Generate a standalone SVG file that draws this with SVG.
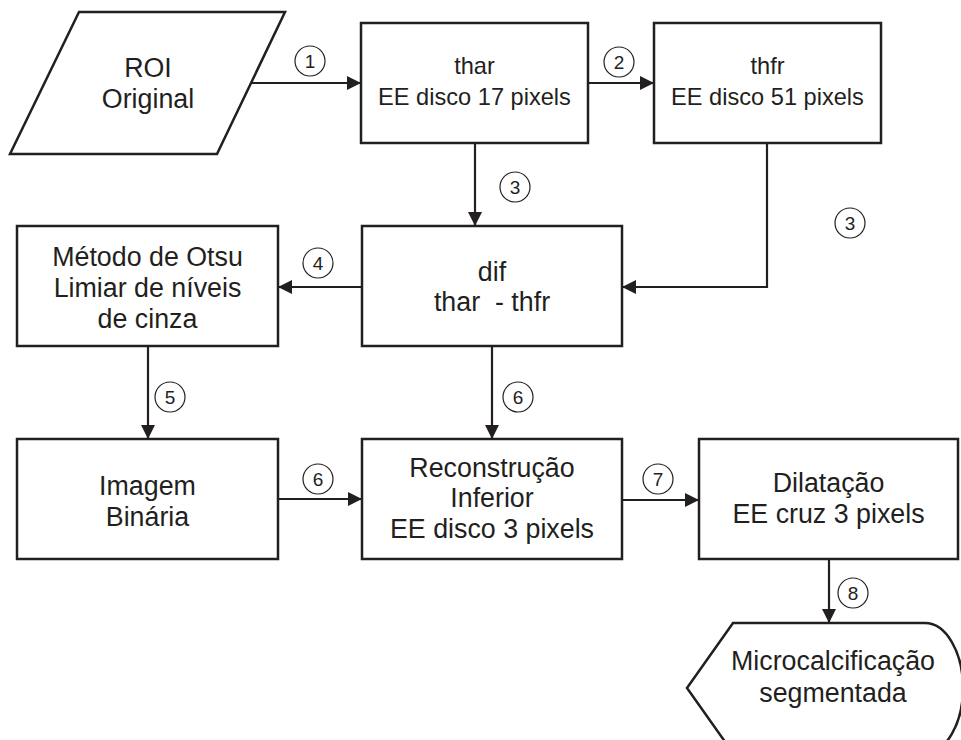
<svg xmlns="http://www.w3.org/2000/svg" width="961" height="740" viewBox="0 0 961 740">
  <style>
    .box { fill: #ffffff; stroke: #231f20; stroke-width: 2.5; }
    .lbl { font-family: "Liberation Sans", Arial, sans-serif; font-size: 26.8px; fill: #231f20; text-anchor: middle; }
    .sm { font-size: 23.6px; }
    .wire { fill: none; stroke: #231f20; stroke-width: 2.2; }
    .num circle { fill: #ffffff; stroke: #231f20; stroke-width: 1.2; }
    .num text { font-family: "Liberation Sans", Arial, sans-serif; font-size: 19px; fill: #231f20; text-anchor: middle; }
  </style>
  <defs>
    <marker id="arrow" markerUnits="userSpaceOnUse" markerWidth="14" markerHeight="14" refX="14" refY="7" orient="auto">
      <path d="M0,0 L14,7 L0,14 z" fill="#231f20"/>
    </marker>
  </defs>
  <rect width="961" height="740" fill="#ffffff"/>

  <!-- connectors -->
  <g id="connectors">
    <line class="wire" x1="252" y1="83" x2="361" y2="83" marker-end="url(#arrow)"/>
    <line class="wire" x1="588" y1="83" x2="654" y2="83" marker-end="url(#arrow)"/>
    <line class="wire" x1="475" y1="143" x2="475" y2="226" marker-end="url(#arrow)"/>
    <polyline class="wire" points="767,143 767,287 622,287" marker-end="url(#arrow)"/>
    <line class="wire" x1="362" y1="287" x2="278" y2="287" marker-end="url(#arrow)"/>
    <line class="wire" x1="148" y1="346" x2="148" y2="439" marker-end="url(#arrow)"/>
    <line class="wire" x1="278" y1="499" x2="362" y2="499" marker-end="url(#arrow)"/>
    <line class="wire" x1="492" y1="346" x2="492" y2="439" marker-end="url(#arrow)"/>
    <line class="wire" x1="622" y1="500" x2="699" y2="500" marker-end="url(#arrow)"/>
    <line class="wire" x1="829" y1="559" x2="829" y2="623" marker-end="url(#arrow)"/>

    <!-- step numbers -->
    <g class="num">
      <circle cx="310" cy="61" r="15"/><text x="310" y="68">1</text>
      <circle cx="619" cy="62" r="15"/><text x="619" y="69">2</text>
      <circle cx="515" cy="187" r="15"/><text x="515" y="194">3</text>
      <circle cx="850" cy="223" r="15"/><text x="850" y="230">3</text>
      <circle cx="318" cy="263" r="15"/><text x="318" y="270">4</text>
      <circle cx="170" cy="397" r="15"/><text x="170" y="404">5</text>
      <circle cx="518" cy="397" r="15"/><text x="518" y="404">6</text>
      <circle cx="318" cy="479" r="15"/><text x="318" y="486">6</text>
      <circle cx="658" cy="479" r="15"/><text x="658" y="486">7</text>
      <circle cx="853" cy="593" r="15"/><text x="853" y="600">8</text>
    </g>
  </g>

  <!-- input data -->
  <g id="roi">
    <polygon class="box" points="79,12 285,12 217,154 10,154"/>
    <text class="lbl" x="148" y="77">ROI</text>
    <text class="lbl" x="148" y="108">Original</text>
  </g>

  <g id="thar">
    <rect class="box" x="361" y="23" width="227" height="120"/>
    <text class="lbl sm" x="474.5" y="74">thar</text>
    <text class="lbl sm" x="474.5" y="105">EE disco 17 pixels</text>
  </g>

  <g id="thfr">
    <rect class="box" x="654" y="23" width="227" height="120"/>
    <text class="lbl sm" x="767.5" y="74">thfr</text>
    <text class="lbl sm" x="767.5" y="105">EE disco 51 pixels</text>
  </g>

  <g id="dif">
    <rect class="box" x="362" y="226" width="260" height="120"/>
    <text class="lbl" x="492" y="281">dif</text>
    <text class="lbl" x="492" y="311" style="white-space:pre">thar  - thfr</text>
  </g>

  <g id="otsu">
    <rect class="box" x="17" y="226" width="261" height="120"/>
    <text class="lbl" x="147.5" y="266">Método de Otsu</text>
    <text class="lbl" x="147.5" y="297">Limiar de níveis</text>
    <text class="lbl" x="147.5" y="328">de cinza</text>
  </g>

  <g id="binaria">
    <rect class="box" x="17" y="439" width="261" height="120"/>
    <text class="lbl" x="147.5" y="495">Imagem</text>
    <text class="lbl" x="147.5" y="526">Binária</text>
  </g>

  <g id="reconstrucao">
    <rect class="box" x="362" y="439" width="260" height="120"/>
    <text class="lbl" x="492" y="477">Reconstrução</text>
    <text class="lbl" x="492" y="507">Inferior</text>
    <text class="lbl" x="492" y="538">EE disco 3 pixels</text>
  </g>

  <g id="dilatacao">
    <rect class="box" x="699" y="439" width="259" height="120"/>
    <text class="lbl" x="828.5" y="492">Dilatação</text>
    <text class="lbl" x="828.5" y="523">EE cruz 3 pixels</text>
  </g>

  <!-- output display -->
  <g id="saida">
    <path class="box" d="M687,688 L733,623 L925,623 A38,65 0 0 1 925,753 L733,753 Z"/>
    <text class="lbl" x="833" y="670">Microcalcificação</text>
    <text class="lbl" x="833" y="702">segmentada</text>
  </g>
</svg>
